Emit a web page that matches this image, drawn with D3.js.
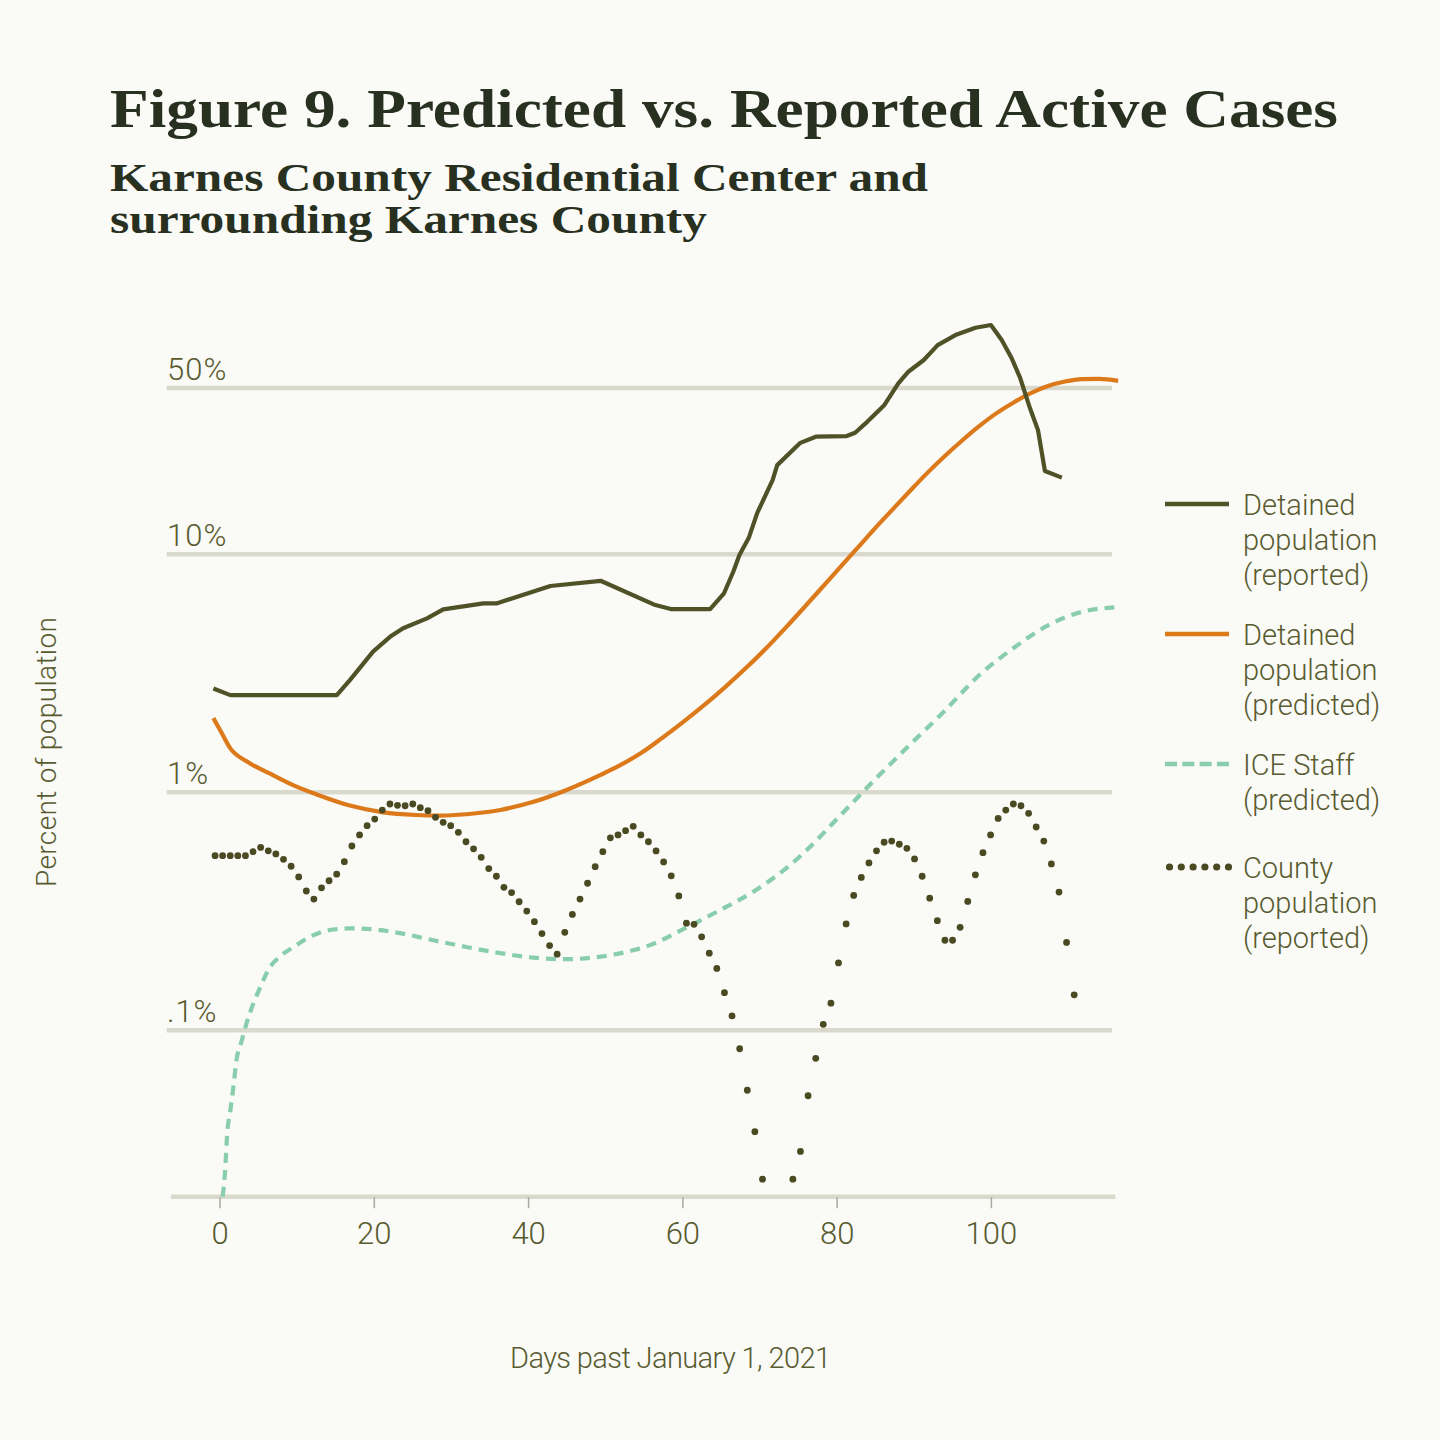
<!DOCTYPE html>
<html>
<head>
<meta charset="utf-8">
<script src="https://cdn.jsdelivr.net/npm/d3@7"></script>
<style>
  html, body { margin: 0; padding: 0; background: #fafaf6; }
  svg { display: block; }
  .sans { font-family: "Roboto", "Liberation Sans", sans-serif; font-weight: 300; }
  .serif { font-family: "Liberation Serif", "DejaVu Serif", serif; font-weight: 700; }
</style>
</head>
<body>
<svg id="chart" width="1440" height="1440"></svg>
<script>
// ---------------- DATA ----------------
const titleText = "Figure 9. Predicted vs. Reported Active Cases";
const subtitleLines = ["Karnes County Residential Center and", "surrounding Karnes County"];
const xAxisTitle = "Days past January 1, 2021";
const yAxisTitle = "Percent of population";

const xTicks = [0, 20, 40, 60, 80, 100];
const yGridValues = [0.02, 0.1, 1, 10, 50];          // percent
const yTickLabels = ["", ".1%", "1%", "10%", "50%"];

// Detained population (reported), percent
const reportedDays   = [-0.8, 1.4, 15.2, 16.9, 19.9, 22.1, 23.8, 26.9, 29.0, 34.2, 35.9, 42.9, 49.4, 56.5, 58.5, 63.6, 65.4, 66.6, 67.4, 68.6, 69.7, 71.7, 72.3, 75.3, 77.3, 81.3, 82.4, 84.0, 86.2, 88.0, 89.3, 91.3, 93.1, 95.4, 98.0, 100.0, 101.4, 102.7, 103.8, 105.0, 106.1, 107.0, 109.2];
const reportedValues = [2.73, 2.56, 2.56, 2.96, 3.9, 4.5, 4.89, 5.38, 5.87, 6.22, 6.22, 7.36, 7.74, 6.12, 5.89, 5.89, 6.86, 8.45, 9.93, 11.7, 14.9, 20.5, 23.7, 29.4, 31.2, 31.4, 32.4, 36.1, 42.4, 52.3, 58.5, 65.5, 75.7, 83.4, 89.5, 91.9, 79.5, 66.6, 55.0, 41.7, 33.3, 22.4, 21.0];

// Detained population (predicted), percent
const predictedDays   = [-0.8, 0.3, 1.4, 3.5, 6.5, 9.6, 12.6, 16.9, 21.2, 25.5, 28.5, 32.0, 36.4, 40.7, 45.0, 49.4, 52.0, 54.7, 57.4, 60.0, 62.7, 65.4, 68.1, 70.7, 73.4, 76.1, 79.0, 82.8, 85.0, 87.3, 89.5, 91.7, 94.0, 96.2, 98.4, 100.6, 102.9, 105.1, 107.3, 109.6, 111.8, 114.0, 116.5];
const predictedValues = [2.05, 1.77, 1.53, 1.35, 1.20, 1.07, 0.98, 0.88, 0.824, 0.803, 0.798, 0.809, 0.843, 0.912, 1.023, 1.183, 1.303, 1.466, 1.694, 1.963, 2.307, 2.742, 3.296, 3.981, 4.92, 6.138, 7.816, 10.72, 12.88, 15.49, 18.45, 21.88, 25.82, 29.92, 34.36, 38.9, 43.35, 47.42, 50.82, 53.21, 54.45, 54.58, 53.58];

// ICE Staff (predicted), percent
const staffDays   = [0.4, 0.7, 1.0, 1.4, 1.8, 2.2, 2.9, 3.5, 4.4, 5.3, 6.3, 7.8, 9.6, 11.7, 14.3, 16.9, 19.1, 23.4, 27.7, 32.0, 36.4, 40.7, 45.0, 49.4, 53.6, 55.8, 60.5, 64.9, 69.4, 73.9, 76.1, 80.6, 85.0, 89.5, 94.0, 98.4, 102.9, 107.3, 111.8, 116.0];
const staffValues = [0.020, 0.025, 0.037, 0.046, 0.058, 0.075, 0.091, 0.107, 0.130, 0.152, 0.179, 0.204, 0.224, 0.247, 0.264, 0.268, 0.267, 0.256, 0.239, 0.224, 0.211, 0.202, 0.199, 0.204, 0.217, 0.228, 0.270, 0.320, 0.386, 0.493, 0.571, 0.807, 1.135, 1.585, 2.198, 3.09, 4.03, 5.01, 5.73, 5.98];

// County population (reported), percent (null = no cases, not drawn on log scale)
const countyDays = [-0.58, 0.40, 1.39, 2.37, 3.36, 4.35, 5.33, 6.32, 7.30, 8.29, 9.28, 10.26, 11.25, 12.23, 13.22, 14.20, 15.19, 16.18, 17.16, 18.15, 19.13, 20.12, 21.10, 22.09, 23.07, 24.06, 25.05, 26.03, 27.02, 28.00, 28.99, 29.97, 30.96, 31.95, 32.93, 33.92, 34.90, 35.89, 36.87, 37.86, 38.84, 39.83, 40.82, 41.80, 42.79, 43.77, 44.76, 45.74, 46.73, 47.71, 48.70, 49.69, 50.67, 51.66, 52.64, 53.63, 54.62, 55.60, 56.59, 57.57, 58.56, 59.54, 60.53, 61.51, 62.50, 63.49, 64.47, 65.46, 66.44, 67.43, 68.42, 69.40, 70.39, 71.37, 72.36, 73.34, 74.33, 75.31, 76.30, 77.29, 78.27, 79.26, 80.24, 81.23, 82.21, 83.20, 84.19, 85.17, 86.16, 87.14, 88.13, 89.11, 90.10, 91.09, 92.07, 93.06, 94.04, 95.03, 96.01, 97.00, 97.99, 98.97, 99.96, 100.94, 101.93, 102.91, 103.90, 104.89, 105.87, 106.86, 107.84, 108.83, 109.81, 110.80];
const countyValues = [0.542, 0.542, 0.542, 0.542, 0.542, 0.563, 0.587, 0.568, 0.551, 0.523, 0.489, 0.441, 0.385, 0.356, 0.397, 0.425, 0.453, 0.511, 0.595, 0.662, 0.724, 0.772, 0.842, 0.893, 0.882, 0.878, 0.893, 0.862, 0.837, 0.785, 0.748, 0.724, 0.679, 0.620, 0.579, 0.533, 0.478, 0.444, 0.399, 0.379, 0.347, 0.317, 0.286, 0.255, 0.227, 0.209, 0.258, 0.307, 0.356, 0.415, 0.487, 0.563, 0.644, 0.662, 0.690, 0.720, 0.662, 0.620, 0.567, 0.510, 0.446, 0.367, 0.282, 0.279, 0.247, 0.211, 0.182, 0.144, 0.115, 0.0837, 0.056, 0.0375, 0.0237, null, null, null, 0.0237, 0.031, 0.0531, 0.0763, 0.106, 0.130, 0.192, 0.280, 0.369, 0.439, 0.505, 0.568, 0.617, 0.624, 0.605, 0.582, 0.525, 0.444, 0.359, 0.289, 0.239, 0.239, 0.271, 0.348, 0.450, 0.558, 0.662, 0.777, 0.842, 0.893, 0.878, 0.816, 0.715, 0.624, 0.500, 0.381, 0.234, 0.141];

const legendLabels = [
  ["Detained", "population", "(reported)"],
  ["Detained", "population", "(predicted)"],
  ["ICE Staff", "(predicted)"],
  ["County", "population", "(reported)"]
];

// ---------------- STYLE / LAYOUT ----------------
const C = {
  bg: "#fafaf6",
  title: "#28301f",
  label: "#585b30",
  grid: "#d9d9cd",
  tick: "#a9a9a0",
  reported: "#4f5127",
  predicted: "#dc7a1b",
  staff: "#88ceac",
  county: "#4a4a22"
};

const svg = d3.select("#chart");
svg.append("rect").attr("width", 1440).attr("height", 1440).attr("fill", C.bg);

const x = d3.scaleLinear().domain([-6.85, 115.7]).range([166.7, 1112]);
const y = d3.scaleLog().domain([0.02, 100]).range([1196.7, 316.3]);

// Title + subtitle
svg.append("text").attr("class", "serif")
  .attr("x", 110).attr("y", 127)
  .attr("font-size", 55).attr("fill", C.title)
  .attr("textLength", 1228).attr("lengthAdjust", "spacingAndGlyphs")
  .text(titleText);

const subWidths = [818, 597];
const sub = svg.append("text").attr("class", "serif")
  .attr("font-size", 41).attr("fill", C.title);
subtitleLines.forEach((t, i) => {
  sub.append("tspan")
    .attr("x", 110).attr("y", 191 + i * 42)
    .attr("textLength", subWidths[i]).attr("lengthAdjust", "spacingAndGlyphs")
    .text(t);
});

// Gridlines and baseline
const gridG = svg.append("g");
yGridValues.forEach((v, i) => {
  const isBase = i === 0;
  gridG.append("line")
    .attr("x1", isBase ? 171 : 166.7)
    .attr("x2", isBase ? 1115.5 : 1112)
    .attr("y1", y(v)).attr("y2", y(v))
    .attr("stroke", C.grid).attr("stroke-width", 4.5);
  if (yTickLabels[i]) {
    gridG.append("text").attr("class", "sans")
      .attr("x", 167).attr("y", y(v) - 8)
      .attr("font-size", 31).attr("fill", C.label)
      .attr("letter-spacing", 1)
      .text(yTickLabels[i]);
  }
});

// X axis (ticks + labels)
const xAxis = d3.axisBottom(x).tickValues(xTicks).tickSize(11).tickPadding(14).tickFormat(d3.format("d"));
const xg = svg.append("g").attr("transform", `translate(0, ${y(0.02) + 0.5})`).call(xAxis);
xg.select(".domain").remove();
xg.selectAll(".tick line").attr("stroke", C.tick).attr("stroke-width", 1.5);
xg.selectAll(".tick text")
  .attr("class", "sans")
  .attr("font-size", 31).attr("fill", C.label)
  .attr("font-family", null)
  .attr("dy", "0.71em");

// Axis titles
svg.append("text").attr("class", "sans")
  .attr("x", 670.5).attr("y", 1368)
  .attr("text-anchor", "middle")
  .attr("font-size", 29).attr("fill", C.label)
  .attr("textLength", 321).attr("lengthAdjust", "spacing")
  .text(xAxisTitle);

svg.append("text").attr("class", "sans")
  .attr("transform", "translate(56, 752) rotate(-90)")
  .attr("text-anchor", "middle")
  .attr("font-size", 28).attr("fill", C.label)
  .attr("textLength", 270).attr("lengthAdjust", "spacing")
  .text(yAxisTitle);

// Series
const plot = svg.append("g");

const staffData = staffDays.map((d, i) => ({ d, v: staffValues[i] }));
plot.append("path")
  .datum(staffData)
  .attr("fill", "none").attr("stroke", C.staff).attr("stroke-width", 4.2)
  .attr("stroke-dasharray", "10,7")
  .attr("d", d3.line().x(p => x(p.d)).y(p => y(p.v)).curve(d3.curveMonotoneX));

const predData = predictedDays.map((d, i) => ({ d, v: predictedValues[i] }));
plot.append("path")
  .datum(predData)
  .attr("fill", "none").attr("stroke", C.predicted).attr("stroke-width", 4.2)
  .attr("d", d3.line().x(p => x(p.d)).y(p => y(p.v)).curve(d3.curveMonotoneX));

const repData = reportedDays.map((d, i) => ({ d, v: reportedValues[i] }));
plot.append("path")
  .datum(repData)
  .attr("fill", "none").attr("stroke", C.reported).attr("stroke-width", 4.2)
  .attr("stroke-linejoin", "round")
  .attr("d", d3.line().x(p => x(p.d)).y(p => y(p.v)));

const countyData = countyDays.map((d, i) => ({ d, v: countyValues[i] })).filter(p => p.v != null);
plot.selectAll("circle.county")
  .data(countyData).enter().append("circle")
  .attr("class", "county")
  .attr("cx", p => x(p.d)).attr("cy", p => y(p.v))
  .attr("r", 3.4).attr("fill", C.county);

// Legend
const legendEntryY = [515, 645, 775, 878];
const legendLineH = 35;
const lg = svg.append("g");
legendLabels.forEach((lines, i) => {
  const by = legendEntryY[i];
  const sy = by - 11;
  if (i === 3) {
    d3.range(6).forEach(k => {
      lg.append("circle").attr("cx", 1169.5 + k * 11.8).attr("cy", sy).attr("r", 3.6).attr("fill", C.county);
    });
  } else {
    const col = [C.reported, C.predicted, C.staff][i];
    lg.append("line")
      .attr("x1", 1165).attr("x2", 1229).attr("y1", sy).attr("y2", sy)
      .attr("stroke", col).attr("stroke-width", 4.5)
      .attr("stroke-dasharray", i === 2 ? "12,5.3" : null);
  }
  lines.forEach((t, j) => {
    lg.append("text").attr("class", "sans")
      .attr("x", 1243).attr("y", by + j * legendLineH)
      .attr("font-size", 29).attr("fill", C.label)
      .text(t);
  });
});
</script>
</body>
</html>
